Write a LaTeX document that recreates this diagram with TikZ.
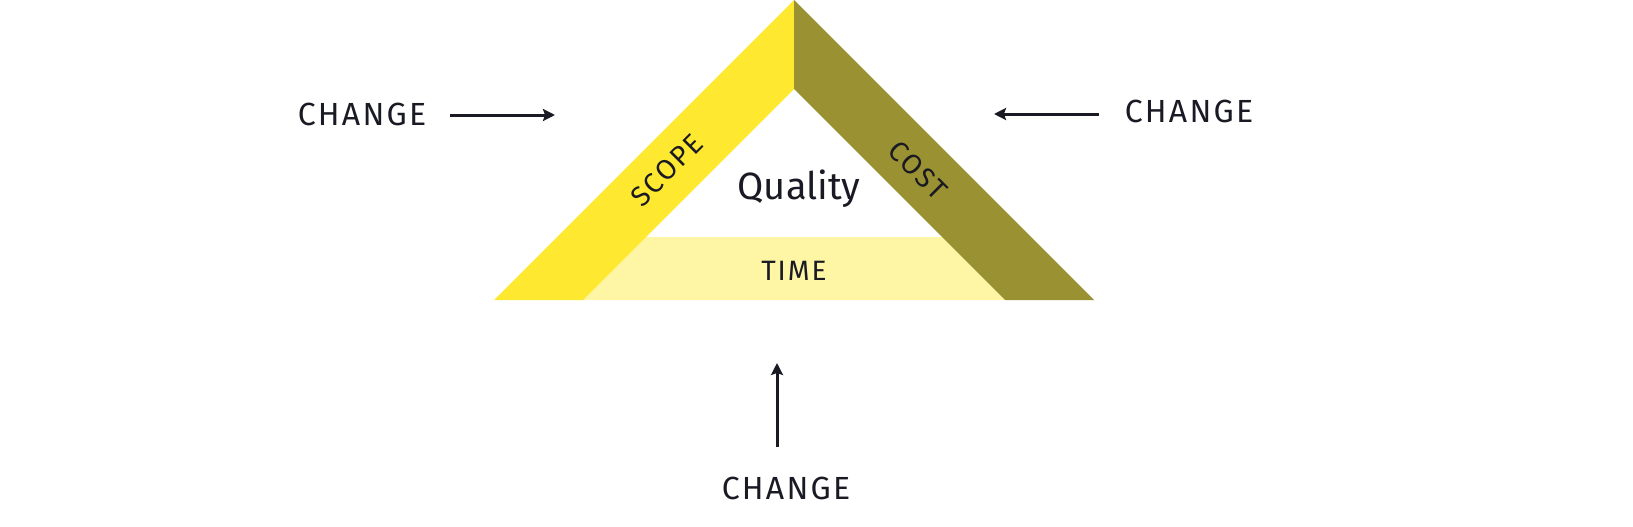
\documentclass[tikz,border=0pt]{standalone}
\usepackage{fontspec}
\setmainfont{Fira Sans}
\newfontfamily\spaced[LetterSpace=7]{Fira Sans}
\usetikzlibrary{arrows.meta}
\definecolor{scopeY}{RGB}{255,232,48}
\definecolor{costO}{RGB}{154,145,50}
\definecolor{timeY}{RGB}{255,246,165}
\definecolor{ink}{RGB}{26,26,36}
\tikzset{
  chg/.style={text=ink, inner sep=0pt, anchor=base, font=\spaced\fontsize{32}{38}\selectfont},
  lbl/.style={text=ink, inner sep=0pt, font=\spaced\fontsize{28}{34}\selectfont},
  push/.style={draw=ink, line width=3pt, -{Stealth[length=12pt,width=12pt,inset=2pt]}},
}
\begin{document}
\begin{tikzpicture}[x=1pt,y=-1pt]
\useasboundingbox (0,0) rectangle (1633,527);
% bands
\fill[timeY] (646,237) -- (942,237) -- (1005,300) -- (583,300) -- cycle;
\fill[scopeY] (794,0) -- (794,89) -- (583,300) -- (494,300) -- cycle;
\fill[costO] (794,0) -- (1094,300) -- (1005,300) -- (794,89) -- cycle;
% labels in triangle
\node[text=ink, inner sep=0pt, anchor=base, font=\fontsize{38}{44}\selectfont] (q) at (799,199) {Quality};
\node[lbl, anchor=base] (t) at (794,280) {TIME};
\node[lbl, rotate=45] (s) at (667,170) {SCOPE};
\node[lbl, rotate=-45] (c) at (918,170) {COST};
% change labels
\node[chg] (cl) at (362,125) {CHANGE};
\node[chg] (cr) at (1189,122) {CHANGE};
\node[chg] (cb) at (786,499) {CHANGE};
% arrows
\coordinate (la1) at (450,115); \coordinate (la2) at (555,115);
\coordinate (ra1) at (1099,114); \coordinate (ra2) at (994,114);
\coordinate (ba1) at (777,447); \coordinate (ba2) at (777,363);
\draw[push] (la1) -- (la2);
\draw[push] (ra1) -- (ra2);
\draw[push] (ba1) -- (ba2);
\end{tikzpicture}
\end{document}
